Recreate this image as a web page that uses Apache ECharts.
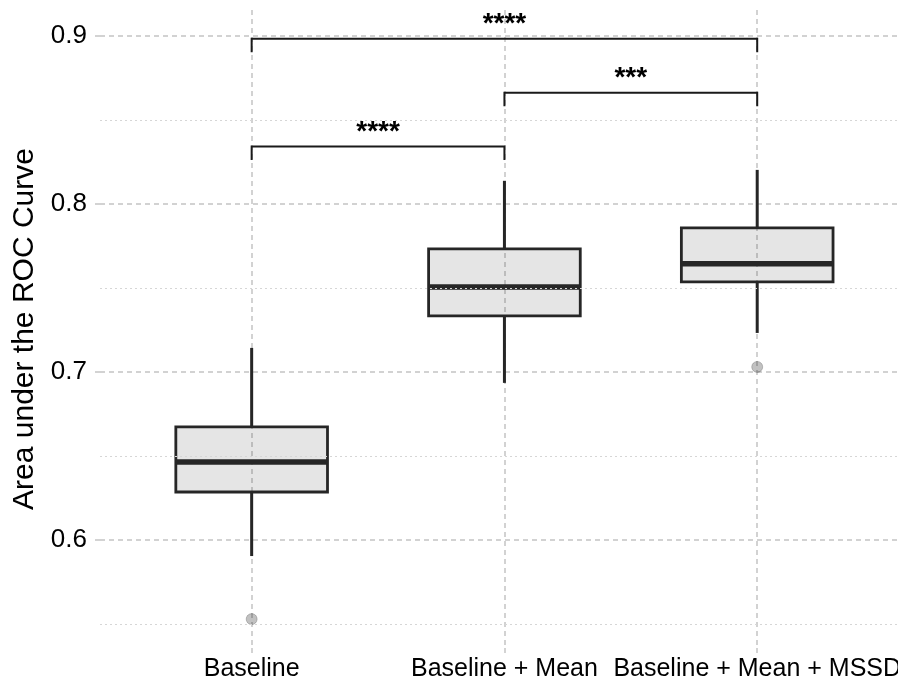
<!DOCTYPE html>
<html>
<head>
<meta charset="utf-8">
<script src="https://cdn.jsdelivr.net/npm/echarts@6/dist/echarts.min.js"></script>
<style>
html,body{margin:0;padding:0;background:#fff;}
#chart{width:898px;height:684px;}
</style>
</head>
<body>
<div id="chart"></div>
<script>
// ---- data ----
const categories = ['Baseline', 'Baseline + Mean', 'Baseline + Mean + MSSD'];
const positions = [1, 2, 3];
const whiskerLow = [0.5905, 0.6935, 0.7232];
const q1 = [0.6286, 0.7333, 0.7536];
const median = [0.6464, 0.7506, 0.7643];
const q3 = [0.6673, 0.7732, 0.7857];
const whiskerHigh = [0.7143, 0.8137, 0.8202];
const outliers = [[1, 0.553], [3, 0.703]];
const bracketFrom = [1, 2, 1];
const bracketTo = [2, 3, 3];
const bracketY = [0.8341, 0.8661, 0.8982];
const bracketLabels = ['****', '***', '****'];
const yTicks = [0.6, 0.7, 0.8, 0.9];
const yMinorLines = [0.55, 0.65, 0.75, 0.85];

const FONT = 'Liberation Sans, Arial, Helvetica, sans-serif';
const boxData = positions.map((p, i) => [p, whiskerLow[i], q1[i], median[i], q3[i], whiskerHigh[i]]);
const bracketData = bracketY.map((y, i) => [bracketFrom[i], bracketTo[i], y, bracketLabels[i]]);

const chart = echarts.init(document.getElementById('chart'), null, {renderer: 'canvas'});
const HALF = 0.3, TIP = 0.008;

chart.setOption({
  animation: false,
  backgroundColor: '#ffffff',
  grid: {left: 100, right: 0, top: 10, bottom: 36, containLabel: false, outerBoundsMode: 'none'},
  xAxis: {
    // panel continues past the right edge of the picture (cropped like the reference)
    type: 'value', min: 0.4, max: 3.557,
    axisLine: {show: false},
    axisTick: {show: true, length: 8, customValues: positions,
      lineStyle: {color: '#c4c4c4', width: 1.5, type: [5, 4]}},
    axisLabel: {customValues: positions, margin: 9, fontSize: 25, color: '#000', fontFamily: FONT,
      hideOverlap: false,
      formatter: v => categories[Math.round(v) - 1] || ''},
    splitLine: {show: true, lineStyle: {color: '#c4c4c4', width: 1.5, type: [5, 4]}},
    minorSplitLine: {show: false}
  },
  yAxis: {
    type: 'value', min: 0.5358, max: 0.9153,
    name: 'Area under the ROC Curve', nameLocation: 'middle', nameRotate: 90, nameGap: 56,
    nameTextStyle: {fontSize: 30, color: '#000', fontFamily: FONT},
    axisLine: {show: false},
    axisTick: {show: true, length: 8, customValues: yTicks,
      lineStyle: {color: '#c4c4c4', width: 1.5, type: [5, 4]}},
    axisLabel: {customValues: yTicks, margin: 13, fontSize: 26, color: '#000', fontFamily: FONT,
      formatter: v => v.toFixed(1)},
    splitLine: {show: true, lineStyle: {color: '#c4c4c4', width: 1.5, type: [5, 4]}}
  },
  series: [
    {
      type: 'custom', name: 'minor', data: [], silent: true, z: 1,
      renderItem: () => null,
      markLine: {
        silent: true, symbol: 'none', label: {show: false},
        lineStyle: {color: '#d6d6d6', width: 1, type: [2, 3]},
        data: yMinorLines.map(v => ({yAxis: v}))
      }
    },
    {
      type: 'custom', name: 'boxes', data: boxData, z: 3,
      encode: {x: 0, y: [1, 2, 3, 4, 5]},
      renderItem: function (params, api) {
        const x = api.value(0);
        const lo = api.coord([x, api.value(1)]);
        const b1 = api.coord([x, api.value(2)]);
        const b3 = api.coord([x, api.value(4)]);
        const hi = api.coord([x, api.value(5)]);
        const tl = api.coord([x - HALF, api.value(4)]);
        const br = api.coord([x + HALF, api.value(2)]);
        const ml = api.coord([x - HALF, api.value(3)]);
        const mr = api.coord([x + HALF, api.value(3)]);
        const stroke = '#262626';
        return {
          type: 'group',
          children: [
            {type: 'line', shape: {x1: hi[0], y1: hi[1], x2: b3[0], y2: b3[1]}, style: {stroke: stroke, lineWidth: 3}},
            {type: 'line', shape: {x1: lo[0], y1: lo[1], x2: b1[0], y2: b1[1]}, style: {stroke: stroke, lineWidth: 3}},
            {type: 'rect', shape: {x: tl[0], y: tl[1], width: br[0] - tl[0], height: br[1] - tl[1]},
              style: {fill: 'rgba(0,0,0,0.1)', stroke: stroke, lineWidth: 2.8}},
            {type: 'line', shape: {x1: ml[0], y1: ml[1], x2: mr[0], y2: mr[1]}, style: {stroke: stroke, lineWidth: 5.5}}
          ]
        };
      }
    },
    {
      type: 'scatter', name: 'outliers', data: outliers, z: 4,
      symbol: 'circle', symbolSize: 11,
      itemStyle: {color: 'rgba(0,0,0,0.3)', borderColor: 'rgba(0,0,0,0.25)', borderWidth: 1}
    },
    {
      type: 'custom', name: 'brackets', data: bracketData, z: 5,
      encode: {x: [0, 1], y: 2},
      renderItem: function (params, api) {
        const x1 = api.value(0), x2 = api.value(1), y = api.value(2);
        const label = bracketLabels[params.dataIndex];
        const a = api.coord([x1, y - TIP]);
        const b = api.coord([x1, y]);
        const c = api.coord([x2, y]);
        const d = api.coord([x2, y - TIP]);
        const mid = api.coord([(x1 + x2) / 2, y]);
        return {
          type: 'group',
          children: [
            {type: 'polyline', shape: {points: [a, b, c, d]}, style: {stroke: '#1a1a1a', lineWidth: 2, fill: null}},
            {type: 'text', x: mid[0], y: mid[1] - 14,
              style: {text: label, fill: '#000', fontSize: 28, fontWeight: 'bold', fontFamily: FONT,
                align: 'center', verticalAlign: 'middle'}}
          ]
        };
      }
    }
  ]
});
</script>
</body>
</html>
